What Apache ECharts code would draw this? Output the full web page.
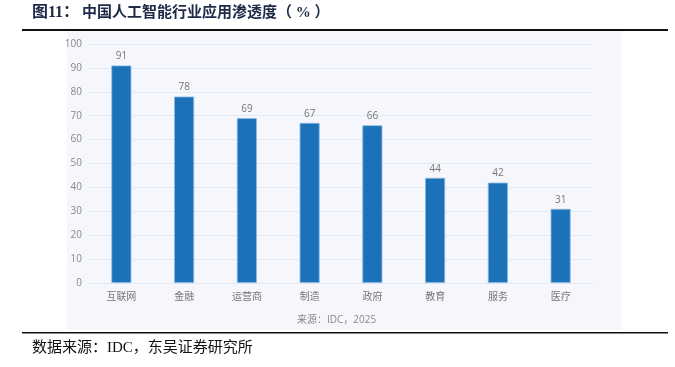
<!DOCTYPE html>
<html>
<head>
<meta charset="utf-8">
<script src="https://cdn.jsdelivr.net/npm/echarts@6/dist/echarts.min.js"></script>
<style>
  html, body { margin: 0; padding: 0; background: #fff; }
  #chart { width: 675px; height: 367px; }
</style>
</head>
<body>
<div id="chart"></div>
<script>
let categories = ['互联网', '金融', '运营商', '制造', '政府', '教育', '服务', '医疗']
let values = [91, 78, 69, 67, 66, 44, 42, 31]
let yTicks = { min: 0, max: 100, interval: 10 }

let serif = '"Liberation Serif", "Noto Sans CJK SC", serif'
let sans = '"Open Sans", "Noto Sans CJK SC", sans-serif'

let option = {
    backgroundColor: '#ffffff',
    animation: false,
    graphic: [
        // 图表背景面板
        { type: 'rect', z: -10, shape: { x: 67, y: 31, width: 555, height: 299 }, style: { fill: '#f5f7fc' } },
        { type: 'text', left: 32, top: 5, style: { text: '图11：', font: 'bold 16px ' + serif, fill: '#1f2a48' } },
        { type: 'text', left: 82, top: 6, style: { text: '中国人工智能行业应用渗透度（ % ）', font: 'bold 15px ' + serif, fill: '#1f2a48' } },
        { type: 'rect', shape: { x: 22, y: 29, width: 646, height: 2 }, style: { fill: '#111' } },
        { type: 'text', left: 297, top: 315, style: { text: '来源：IDC，2025', font: '10px ' + sans, fill: '#888' } },
        { type: 'rect', shape: { x: 22, y: 332, width: 646, height: 1.5 }, style: { fill: '#111' } },
        { type: 'text', left: 32, top: 341, style: { text: '数据来源：IDC，东吴证券研究所', font: '15px ' + serif, fill: '#111' } }
    ],
    grid: {
        left: 90,
        right: 83,
        top: 44,
        bottom: 84
    },
    xAxis: {
        type: 'category',
        data: categories,
        axisLine: { show: true, lineStyle: { color: '#e4e8f0' } },
        axisTick: { show: false },
        axisLabel: { color: '#777', fontSize: 10, fontFamily: sans, margin: 9 }
    },
    yAxis: {
        type: 'value',
        min: yTicks.min,
        max: yTicks.max,
        interval: yTicks.interval,
        axisLine: { show: false },
        axisTick: { show: false },
        axisLabel: { color: '#888', fontSize: 10, fontFamily: sans, margin: 8 },
        splitLine: { lineStyle: { color: '#e4e8f0' } }
    },
    series: [{
        type: 'bar',
        data: values,
        barWidth: 20,
        itemStyle: {
            color: '#1b72b8',
            borderColor: '#8bb8e0',
            borderWidth: 0.8
        },
        label: {
            show: true,
            position: 'top',
            color: '#777',
            fontSize: 10,
            fontFamily: sans,
            distance: 4
        }
    }]
}

// eslint-disable-next-line no-undef
var myChart = echarts.init(document.getElementById('chart'))
myChart.setOption(option)
</script>
</body>
</html>
